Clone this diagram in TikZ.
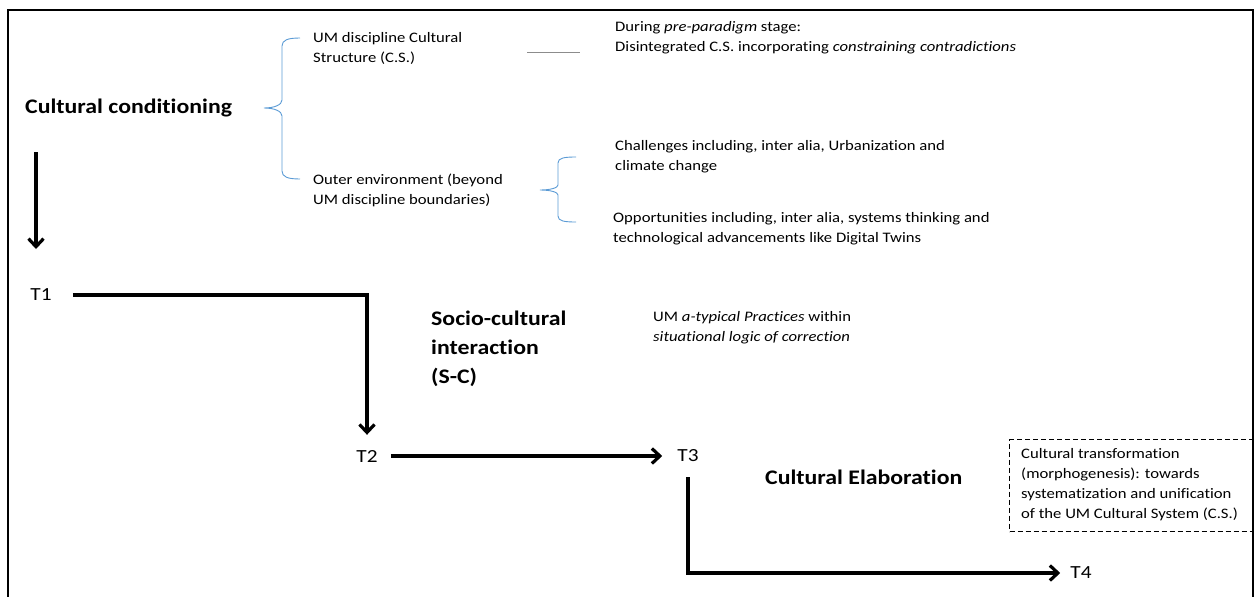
\documentclass[tikz,border=0pt]{standalone}
\usepackage{fontspec}
\setmainfont{Carlito}[FakeStretch=1.15, Ligatures={NoCommon}]
\usetikzlibrary{arrows.meta}
\definecolor{braceblue}{HTML}{5B9BD5}
\definecolor{rulegray}{HTML}{8C8C8C}
\tikzset{
  body/.style={font=\fontsize{14.5}{20}\selectfont, align=left, inner sep=0pt, anchor=west},
  heading/.style={font=\fontsize{20.7}{29}\selectfont\bfseries, align=left, inner sep=0pt, anchor=west},
  tlabel/.style={font=\fontsize{18.5}{20}\selectfont, inner sep=0pt},
  flow/.style={line width=3.2pt, -{Straight Barb[length=8pt,width=15pt,line width=3.2pt]}},
  bracecurve/.style={draw=braceblue, line width=0.9pt},
}
\begin{document}
\begin{tikzpicture}[x=1pt,y=-1pt]
\useasboundingbox (0,0) rectangle (1259,597);
% outer frame, open at the bottom
\draw[line width=2pt] (8,620) -- (8,10) -- (1253,10) -- (1253,620);

% cultural conditioning block
\node[heading] (cc) at (25,108) {Cultural conditioning};
\coordinate (ccfrom) at (36,152);
\coordinate (ccto) at (36,249);
\draw[flow] (ccfrom) -- (ccto);

% first brace
\draw[bracecurve] (300,38) .. controls (288,38) and (282,40) .. (282,46)
  -- (282,100) .. controls (282,105) and (274,108) .. (264,108)
  .. controls (274,108) and (282,111) .. (282,116)
  -- (282,171) .. controls (282,177) and (288,179) .. (300,179);

\node[body] (cs) at (313,48) {UM discipline Cultural\\Structure (C.S.)};
\node[body] (outer) at (313,190) {Outer environment (beyond\\UM discipline boundaries)};

\coordinate (rulea) at (527,52);
\coordinate (ruleb) at (580,52);
\draw[rulegray, line width=0.9pt] (rulea) -- (ruleb);
\node[body] (pre) at (615,38) {During \textit{pre-paradigm} stage:\\Disintegrated C.S. incorporating \textit{constraining contradictions}};

% second brace
\draw[bracecurve] (576,157) .. controls (564,157) and (558,158) .. (558,163)
  -- (558,185) .. controls (558,188) and (550,190) .. (540,190)
  .. controls (550,190) and (558,192) .. (558,195)
  -- (558,216) .. controls (558,221) and (564,222) .. (576,222);

\node[body] (chal) at (615,157) {Challenges including, inter alia, Urbanization and\\climate change};
\node[body] (opp) at (613,229) {Opportunities including, inter alia, systems thinking and\\technological advancements like Digital Twins};

% time points and flow
\node[tlabel] (T1) at (41,295) {T1};
\node[tlabel] (T2) at (367,456) {T2};
\node[tlabel] (T3) at (688,456) {T3};
\node[tlabel] (T4) at (1081,573) {T4};

\draw[flow, shorten >=15pt] ([xshift=21pt]T1.east) -| (T2.north);
\draw[flow, shorten >=15pt] ([xshift=13pt]T2.east) -- (T3.west);
\draw[flow, shorten >=10pt] ([yshift=-15pt]T3.south) |- (T4.west);

\node[heading] (sci) at (431,349) {Socio-cultural\\interaction\\(S-C)};
\node[body] (atyp) at (653,328) {UM \textit{a-typical Practices} within\\\textit{situational logic of correction}};

\node[heading] (ce) at (765,477) {Cultural Elaboration};

\node[draw, dashed, dash pattern=on 5pt off 3pt, line width=1.4pt, minimum width=244pt, minimum height=92pt, anchor=north west, inner sep=0pt] (tbox) at (1009,439) {};
\node[body] (trans) at (1021,485) {Cultural transformation\\(morphogenesis): towards\\systematization and unification\\of the UM Cultural System (C.S.)};
\end{tikzpicture}
\end{document}
